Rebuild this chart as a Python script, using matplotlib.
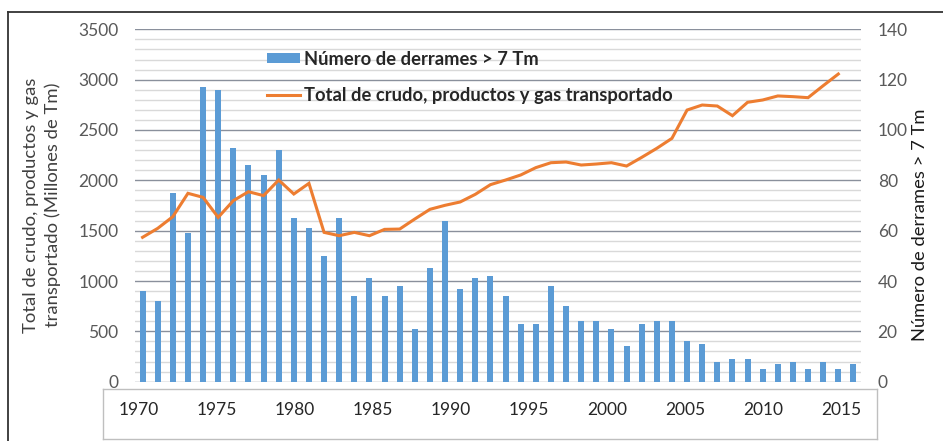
import numpy as np
import matplotlib
matplotlib.use("Agg")
from matplotlib import pyplot as plt
from matplotlib.ticker import MultipleLocator
from matplotlib.lines import Line2D

plt.rcParams['font.family'] = ['Lato', 'DejaVu Sans']

# data
years = list(range(1970, 2018))
spills = [36, 32, 75, 59, 117, 116, 93, 86, 82, 92, 65, 61, 50, 65, 34, 41,
          34, 38, 21, 45, 64, 37, 41, 42, 34, 23, 23, 38, 30, 24, 24, 21,
          14, 23, 24, 24, 16, 15, 8, 9, 9, 5, 7, 8, 5, 8, 5, 7]
line_years = list(range(1970, 2017))
transported = [1434, 1523, 1639, 1871, 1831, 1632, 1798, 1887, 1848, 2003,
               1864, 1970, 1483, 1450, 1483, 1450, 1513, 1516, 1616, 1712,
               1752, 1785, 1861, 1957, 2003, 2053, 2126, 2175, 2182, 2152,
               2162, 2175, 2142, 2228, 2318, 2417, 2698, 2748, 2738, 2642,
               2775, 2798, 2838, 2831, 2821, 2940, 3056]
label_years = list(range(1970, 2016, 5))

bar_label = 'Número de derrames > 7 Tm'
line_label = 'Total de crudo, productos y gas transportado'
left_label = 'Total de crudo, productos y gas\ntransportado (Millones de Tm)'

BLUE = '#5B9BD5'
ORANGE = '#ED7D31'
TICK = '#595959'

W, H = 943, 441
fig = plt.figure(figsize=(W / 100, H / 100), dpi=100)


def px(x0, y0, x1, y1):
    # pixel box (top-left origin) -> figure fraction rect
    return [x0 / W, 1 - y1 / H, (x1 - x0) / W, (y1 - y0) / H]


rect = px(135, 29.3, 861, 381.7)

# bars, right axis (drawn first so grid sits behind everything)
axb = fig.add_axes(rect)
bars = axb.bar(years, spills, width=0.4, color=BLUE, zorder=2, label=bar_label)
axb.set_ylim(0, 140)
axb.set_xlim(years[0] - 0.5, years[-1] + 0.5)
axb.yaxis.set_major_locator(MultipleLocator(20))
axb.yaxis.set_minor_locator(MultipleLocator(4))
axb.grid(axis='y', which='major', color='#8a909c', lw=1.0, zorder=0)
axb.grid(axis='y', which='minor', color='#d9d9d9', lw=1.0, zorder=0)
axb.set_axisbelow(True)
axb.yaxis.tick_right()
axb.tick_params(axis='y', which='both', length=0, pad=12, labelsize=12.5,
                labelcolor=TICK)
axb.set_xticks([])
for s in axb.spines.values():
    s.set_visible(False)

# line, left axis
axl = fig.add_axes(rect)
axl.patch.set_visible(False)
ln, = axl.plot(line_years, transported, color=ORANGE, lw=2.2,
               solid_joinstyle='miter', label=line_label)
axl.set_ylim(0, 3500)
axl.set_xlim(years[0] - 0.5, years[-1] + 0.5)
axl.yaxis.set_major_locator(MultipleLocator(500))
axl.tick_params(axis='y', length=0, pad=12, labelsize=12.5, labelcolor=TICK)
axl.set_xticks([])
for s in axl.spines.values():
    s.set_visible(False)

leg = axl.legend(handles=[bars, ln], loc='upper left',
                 bbox_to_anchor=(250 / W, 1 - 34 / H),
                 bbox_transform=fig.transFigure, frameon=False,
                 prop={'size': 13.2, 'weight': 'bold'}, handlelength=1.8,
                 handleheight=0.5, handletextpad=0.22, labelspacing=1.05)
for t in leg.get_texts():
    t.set_color('#262626')

# axis titles
fig.text(42 / W, 1 - 205 / H, left_label, rotation=90, ha='center',
         va='center', fontsize=13.3, color='#404040', linespacing=1.4)
fig.text(920 / W, 1 - 225 / H, bar_label, rotation=90, ha='center',
         va='center', fontsize=13.2, color='#1a1a1a')

# year labels live in their own box under the plot
axx = fig.add_axes(px(103, 389, 877, 439))
pad = 35.3 / 15.631
axx.set_xlim(label_years[0] - pad, label_years[-1] + pad)
axx.set_ylim(0, 1)
axx.set_xticks([])
axx.set_yticks([])
for s in axx.spines.values():
    s.set_color('#bfbfbf')
    s.set_linewidth(1.0)
for yr in label_years:
    axx.text(yr, 0.58, str(yr), ha='center', va='center', fontsize=12.5,
             color='#262626')

# outer frame (top and left edges only visible)
fig.add_artist(Line2D([8 / W, 8 / W], [0, 1 - 12 / H], color='#333333',
                      lw=1.3, transform=fig.transFigure))
fig.add_artist(Line2D([8 / W, 1], [1 - 12 / H, 1 - 12 / H], color='#333333',
                      lw=1.3, transform=fig.transFigure))

fig.savefig('out.png', dpi=100)
